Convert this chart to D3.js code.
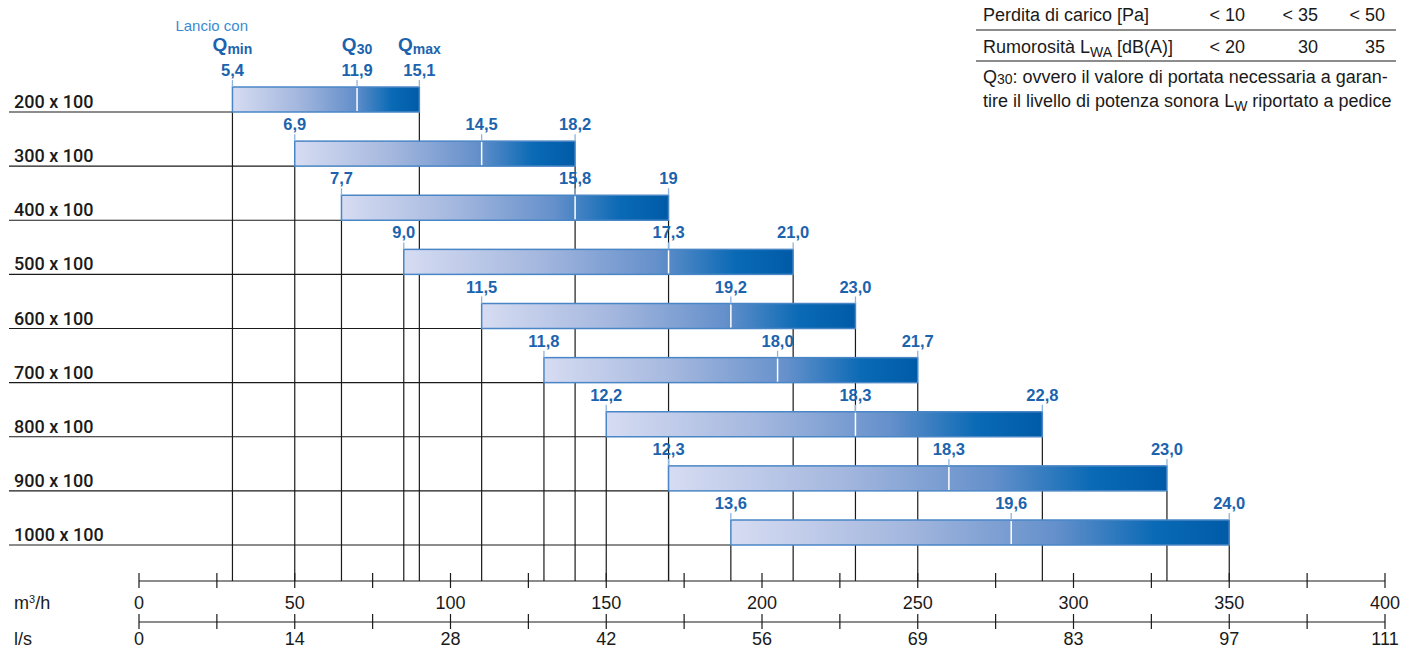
<!DOCTYPE html>
<meta charset="utf-8">
<script src="https://cdn.jsdelivr.net/npm/d3@7"></script>
<body>
  <div id='chart'></div>
</body>

<style>
body {
  margin: 0;
  background: #fff;
  font-family: "Liberation Sans", Arial, Helvetica, sans-serif;
}
</style>

<script>

// sizes (rows), throw lengths in m at Qmin / Q30 / Qmax, airflow in m3/h
var categories = ['200 x 100', '300 x 100', '400 x 100', '500 x 100', '600 x 100',
                  '700 x 100', '800 x 100', '900 x 100', '1000 x 100'];
var qMin = [30, 50, 65, 85, 110, 130, 150, 170, 190];
var q30  = [70, 110, 140, 170, 190, 205, 230, 260, 280];
var qMax = [90, 140, 170, 210, 230, 250, 290, 330, 350];
var lancioMin = ['5,4', '6,9', '7,7', '9,0', '11,5', '11,8', '12,2', '12,3', '13,6'];
var lancio30  = ['11,9', '14,5', '15,8', '17,3', '19,2', '18,0', '18,3', '18,3', '19,6'];
var lancioMax = ['15,1', '18,2', '19', '21,0', '23,0', '21,7', '22,8', '23,0', '24,0'];

var m3hTicks = [0, 50, 100, 150, 200, 250, 300, 350, 400];
var lsLabels = ['0', '14', '28', '42', '56', '69', '83', '97', '111'];

var tableHead = ['< 10', '< 35', '< 50'];
var tableNoise = ['< 20', '30', '35'];

var width = 1403, height = 649;
var blue = '#1c63ae', ink = '#1a1a1a';

var rows = categories.map(function(c, i) {
  return { name: c, min: qMin[i], q30: q30[i], max: qMax[i],
           lMin: lancioMin[i], l30: lancio30[i], lMax: lancioMax[i] };
});

var svg = d3.select('#chart').append('svg')
  .attr('width', width)
  .attr('height', height);

var defs = svg.append('defs');
var grad = defs.append('linearGradient').attr('id', 'barGrad')
  .attr('x1', '0%').attr('x2', '100%').attr('y1', '0%').attr('y2', '0%');
[['0%', '#d6dcf2'], ['35%', '#a4b7de'], ['65%', '#6590cb'], ['85%', '#0a6ab5'], ['100%', '#005ba7']]
  .forEach(function(s) { grad.append('stop').attr('offset', s[0]).attr('stop-color', s[1]); });

var x = d3.scaleLinear().domain([0, 400]).range([139, 1385]);
var yBottom = d3.scalePoint().domain(categories).range([112, 545]);
var barH = 25, axisY = 581, axis2Y = 622;

// row underlines
svg.append('g').selectAll('line')
  .data(rows).enter().append('line')
  .attr('x1', 9).attr('x2', function(d) { return x(d.min); })
  .attr('y1', function(d) { return yBottom(d.name); })
  .attr('y2', function(d) { return yBottom(d.name); })
  .attr('stroke', ink).attr('stroke-width', 1.2);

// drop lines from bar ends to the axis
var drops = [];
rows.forEach(function(d) { drops.push([d.min, d.name], [d.max, d.name]); });
svg.append('g').selectAll('line')
  .data(drops).enter().append('line')
  .attr('x1', function(d) { return x(d[0]); })
  .attr('x2', function(d) { return x(d[0]); })
  .attr('y1', function(d) { return yBottom(d[1]); })
  .attr('y2', axisY)
  .attr('stroke', ink).attr('stroke-width', 1.2);

// row labels
svg.append('g').selectAll('text')
  .data(rows).enter().append('text')
  .attr('x', 14)
  .attr('y', function(d) { return yBottom(d.name) - 4; })
  .attr('fill', ink)
  .style('font-family', 'Roboto, "Liberation Sans", sans-serif')
  .style('font-weight', 500)
  .style('font-size', '18px')
  .text(function(d) { return d.name; });

// bars
var bar = svg.append('g').selectAll('g')
  .data(rows).enter().append('g');

bar.append('rect')
  .attr('x', function(d) { return x(d.min); })
  .attr('y', function(d) { return yBottom(d.name) - barH; })
  .attr('width', function(d) { return x(d.max) - x(d.min); })
  .attr('height', barH)
  .attr('fill', 'url(#barGrad)')
  .attr('stroke', '#4a86c6')
  .attr('stroke-width', 1.5);

bar.append('line')
  .attr('x1', function(d) { return x(d.q30); })
  .attr('x2', function(d) { return x(d.q30); })
  .attr('y1', function(d) { return yBottom(d.name) - barH + 1; })
  .attr('y2', function(d) { return yBottom(d.name) - 1; })
  .attr('stroke', '#fff').attr('stroke-width', 1.5);

// small ticks and throw values above each bar
bar.each(function(d) {
  var g = d3.select(this), top = yBottom(d.name) - barH;
  [[d.min, d.lMin], [d.q30, d.l30], [d.max, d.lMax]].forEach(function(p) {
    g.append('line')
      .attr('x1', x(p[0])).attr('x2', x(p[0]))
      .attr('y1', top - 7).attr('y2', top)
      .attr('stroke', '#8cb5df').attr('stroke-width', 1.3);
    g.append('text')
      .attr('x', x(p[0]))
      .attr('y', top - 11)
      .attr('text-anchor', 'middle')
      .attr('fill', blue)
      .style('font-size', '16.5px')
      .style('font-weight', 'bold')
      .text(p[1]);
  });
});

// header over first bar
var head = svg.append('g');
head.append('text')
  .attr('x', 248).attr('y', 31)
  .attr('text-anchor', 'end')
  .attr('fill', '#3a8bd0')
  .style('font-size', '15px')
  .text('Lancio con');

[[qMin[0], 'min'], [q30[0], '30'], [qMax[0], 'max']].forEach(function(p) {
  var t = head.append('text')
    .attr('x', x(p[0])).attr('y', 51)
    .attr('text-anchor', 'middle')
    .attr('fill', blue)
    .style('font-weight', 'bold')
    .style('font-size', '19px');
  t.append('tspan').text('Q');
  t.append('tspan').attr('dy', 3).style('font-size', '14px').text(p[1]);
});

// axes
function drawAxis(y0, labels, labelY) {
  var g = svg.append('g');
  g.append('line')
    .attr('x1', x(0)).attr('x2', x(400))
    .attr('y1', y0).attr('y2', y0)
    .attr('stroke', ink).attr('stroke-width', 1.2);
  g.selectAll('line.tick')
    .data(d3.range(0, 401, 25)).enter().append('line')
    .attr('class', 'tick')
    .attr('x1', function(d) { return x(d); })
    .attr('x2', function(d) { return x(d); })
    .attr('y1', y0 - 8).attr('y2', y0 + 7)
    .attr('stroke', ink).attr('stroke-width', 1.2);
  g.selectAll('text')
    .data(m3hTicks).enter().append('text')
    .attr('x', function(d) { return x(d); })
    .attr('y', labelY)
    .attr('text-anchor', 'middle')
    .attr('fill', ink)
    .style('font-size', '18px')
    .text(function(d, i) { return labels[i]; });
}
drawAxis(axisY, m3hTicks.map(String), 609);
drawAxis(axis2Y, lsLabels, 645);

var unit = svg.append('text').attr('x', 14).attr('y', 609).attr('fill', ink).style('font-size', '18px');
unit.append('tspan').text('m');
unit.append('tspan').attr('dy', -6).style('font-size', '11px').text('3');
unit.append('tspan').attr('dy', 6).text('/h');
svg.append('text').attr('x', 14).attr('y', 645).attr('fill', ink).style('font-size', '18px').text('l/s');

// legend table top right
var tbl = svg.append('g').style('font-size', '18px').attr('fill', ink);
tbl.append('text').attr('x', 983).attr('y', 21).text('Perdita di carico [Pa]');
var r2 = tbl.append('text').attr('x', 983).attr('y', 53);
r2.append('tspan').text('Rumorosità L');
r2.append('tspan').attr('dy', 4).style('font-size', '14px').text('WA');
r2.append('tspan').attr('dy', -4).text(' [dB(A)]');

var colX = [1245, 1318, 1385];
tableHead.forEach(function(t, i) {
  tbl.append('text').attr('x', colX[i]).attr('y', 21).attr('text-anchor', 'end').text(t);
});
tableNoise.forEach(function(t, i) {
  tbl.append('text').attr('x', colX[i]).attr('y', 53).attr('text-anchor', 'end').text(t);
});
[30, 61].forEach(function(yy) {
  tbl.append('line').attr('x1', 976).attr('x2', 1396).attr('y1', yy).attr('y2', yy)
    .attr('stroke', ink).attr('stroke-width', 1.2);
});

var n1 = tbl.append('text').attr('x', 983).attr('y', 83);
n1.append('tspan').text('Q');
n1.append('tspan').attr('dy', 1).style('font-size', '14px').text('30');
n1.append('tspan').attr('dy', -1).text(': ovvero il valore di portata necessaria a garan-');
var n2 = tbl.append('text').attr('x', 983).attr('y', 107);
n2.append('tspan').text('tire il livello di potenza sonora L');
n2.append('tspan').attr('dy', 4).style('font-size', '14px').text('W');
n2.append('tspan').attr('dy', -4).text(' riportato a pedice');

</script>
